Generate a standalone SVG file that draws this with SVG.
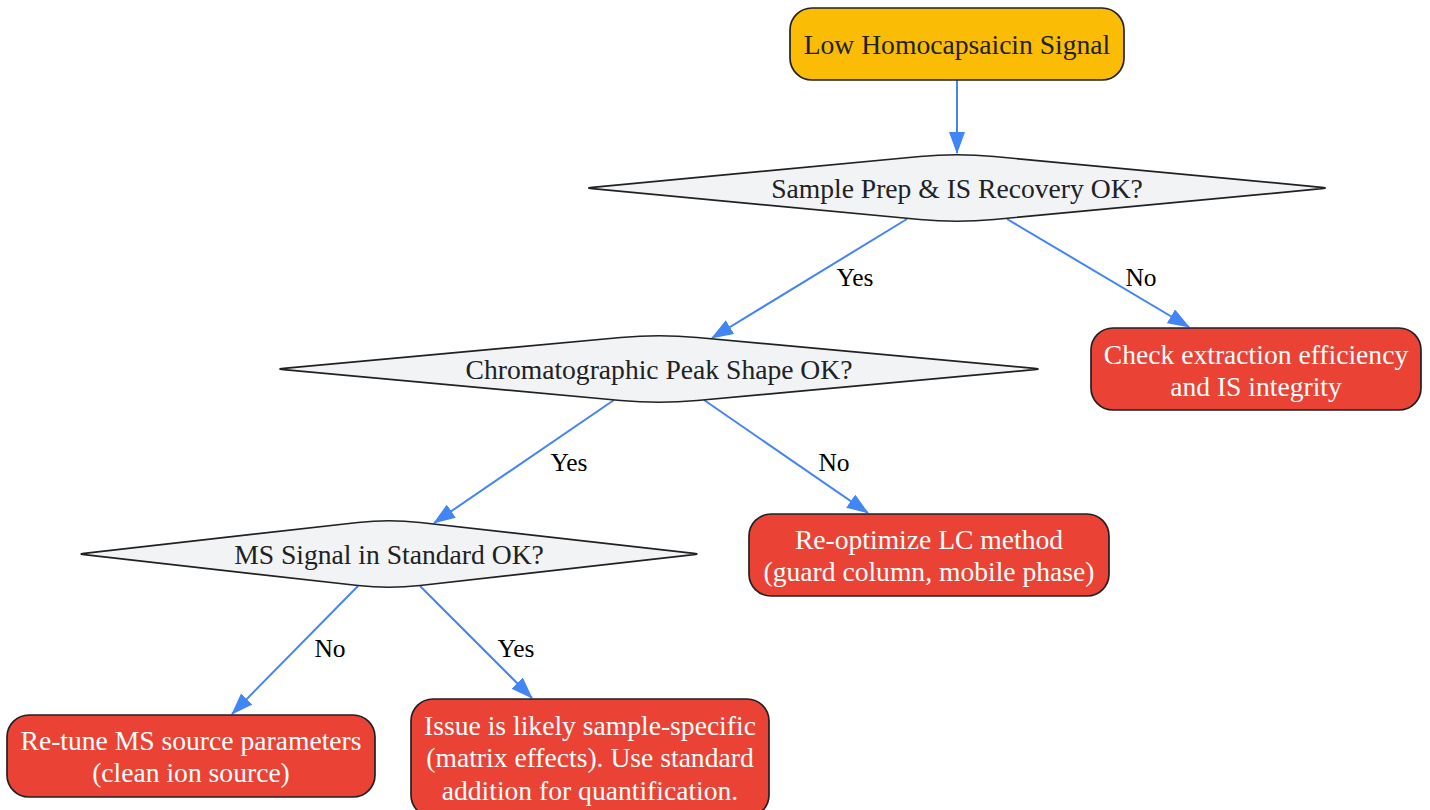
<svg xmlns="http://www.w3.org/2000/svg" width="1430" height="810" viewBox="0 0 1430 810">
<style>
.node{stroke:#202124;stroke-width:1.7}
.start{fill:#FBBC05}
.dec{fill:#F1F3F4}
.end{fill:#EA4335}
.t{font-family:"Liberation Serif","Times New Roman",serif;font-size:27.6px;text-anchor:middle}
.dark{fill:#202124}
.w{fill:#FFFFFF}
.edge{stroke:#4285F4;stroke-width:2;fill:none;marker-end:url(#ah)}
.lbl{font-family:"Liberation Serif","Times New Roman",serif;font-size:25.5px;text-anchor:middle;fill:#000}
</style>
<defs>
<marker id="ah" viewBox="0 0 22 16" refX="21" refY="8" markerUnits="userSpaceOnUse" markerWidth="22" markerHeight="16" orient="auto">
<path d="M0,0 L22,8 L0,16 Z" fill="#4285F4"/>
</marker>
</defs>
<rect width="1430" height="810" fill="#FFFFFF"/>
<g id="connectors">
<line class="edge" x1="957" y1="80" x2="957" y2="153"/>
<line class="edge" x1="907" y1="219" x2="712" y2="338"/>
<line class="edge" x1="1007" y1="219" x2="1189" y2="327"/>
<line class="edge" x1="614" y1="400" x2="434" y2="523"/>
<line class="edge" x1="704" y1="400" x2="868" y2="513"/>
<line class="edge" x1="358" y1="586" x2="232" y2="714"/>
<line class="edge" x1="420" y1="586" x2="532" y2="698"/>
<text class="lbl" x="855" y="286">Yes</text>
<text class="lbl" x="1141" y="286">No</text>
<text class="lbl" x="569" y="471">Yes</text>
<text class="lbl" x="834" y="471">No</text>
<text class="lbl" x="330" y="657">No</text>
<text class="lbl" x="516" y="657">Yes</text>
</g>
<g id="start">
<rect class="node start" x="790" y="8" width="334" height="72" rx="22"/>
<text class="t dark" x="957" y="54">Low Homocapsaicin Signal</text>
</g>
<g id="d1">
<path class="node dec" d="M592.4,187.3 L919.8,156.5 Q957,153 994.2,156.5 L1321.6,187.3 Q1329,188 1321.6,188.7 L994.2,219.5 Q957,223 919.8,219.5 L592.4,188.7 Q585,188 592.4,187.3 Z"/>
<text class="t dark" x="957" y="198">Sample Prep &amp; IS Recovery OK?</text>
</g>
<g id="d2">
<path class="node dec" d="M283.7,368.3 L620.7,337.5 Q659,334 697.3,337.5 L1034.3,368.3 Q1042,369 1034.3,369.7 L697.3,400.5 Q659,404 620.7,400.5 L283.7,369.7 Q276,369 283.7,368.3 Z"/>
<text class="t dark" x="659" y="379">Chromatographic Peak Shape OK?</text>
</g>
<g id="d3">
<path class="node dec" d="M84.2,553.3 L357.9,522.5 Q389,519 420.1,522.5 L693.8,553.3 Q700,554 693.8,554.7 L420.1,585.5 Q389,589 357.9,585.5 L84.2,554.7 Q78,554 84.2,553.3 Z"/>
<text class="t dark" x="389" y="564">MS Signal in Standard OK?</text>
</g>
<g id="extraction">
<rect class="node end" x="1091" y="328" width="330" height="82" rx="22"/>
<text class="t w" x="1256" y="364">Check extraction efficiency</text>
<text class="t w" x="1256" y="396">and IS integrity</text>
</g>
<g id="lcmethod">
<rect class="node end" x="749" y="514" width="360" height="82" rx="22"/>
<text class="t w" x="929" y="549">Re-optimize LC method</text>
<text class="t w" x="929" y="581">(guard column, mobile phase)</text>
</g>
<g id="retune">
<rect class="node end" x="7" y="715" width="368" height="82" rx="22"/>
<text class="t w" x="191" y="750">Re-tune MS source parameters</text>
<text class="t w" x="191" y="782">(clean ion source)</text>
</g>
<g id="matrix">
<rect class="node end" x="411" y="699" width="358" height="118" rx="22"/>
<text class="t w" x="590" y="735">Issue is likely sample-specific</text>
<text class="t w" x="590" y="767">(matrix effects). Use standard</text>
<text class="t w" x="590" y="800">addition for quantification.</text>
</g>
</svg>
